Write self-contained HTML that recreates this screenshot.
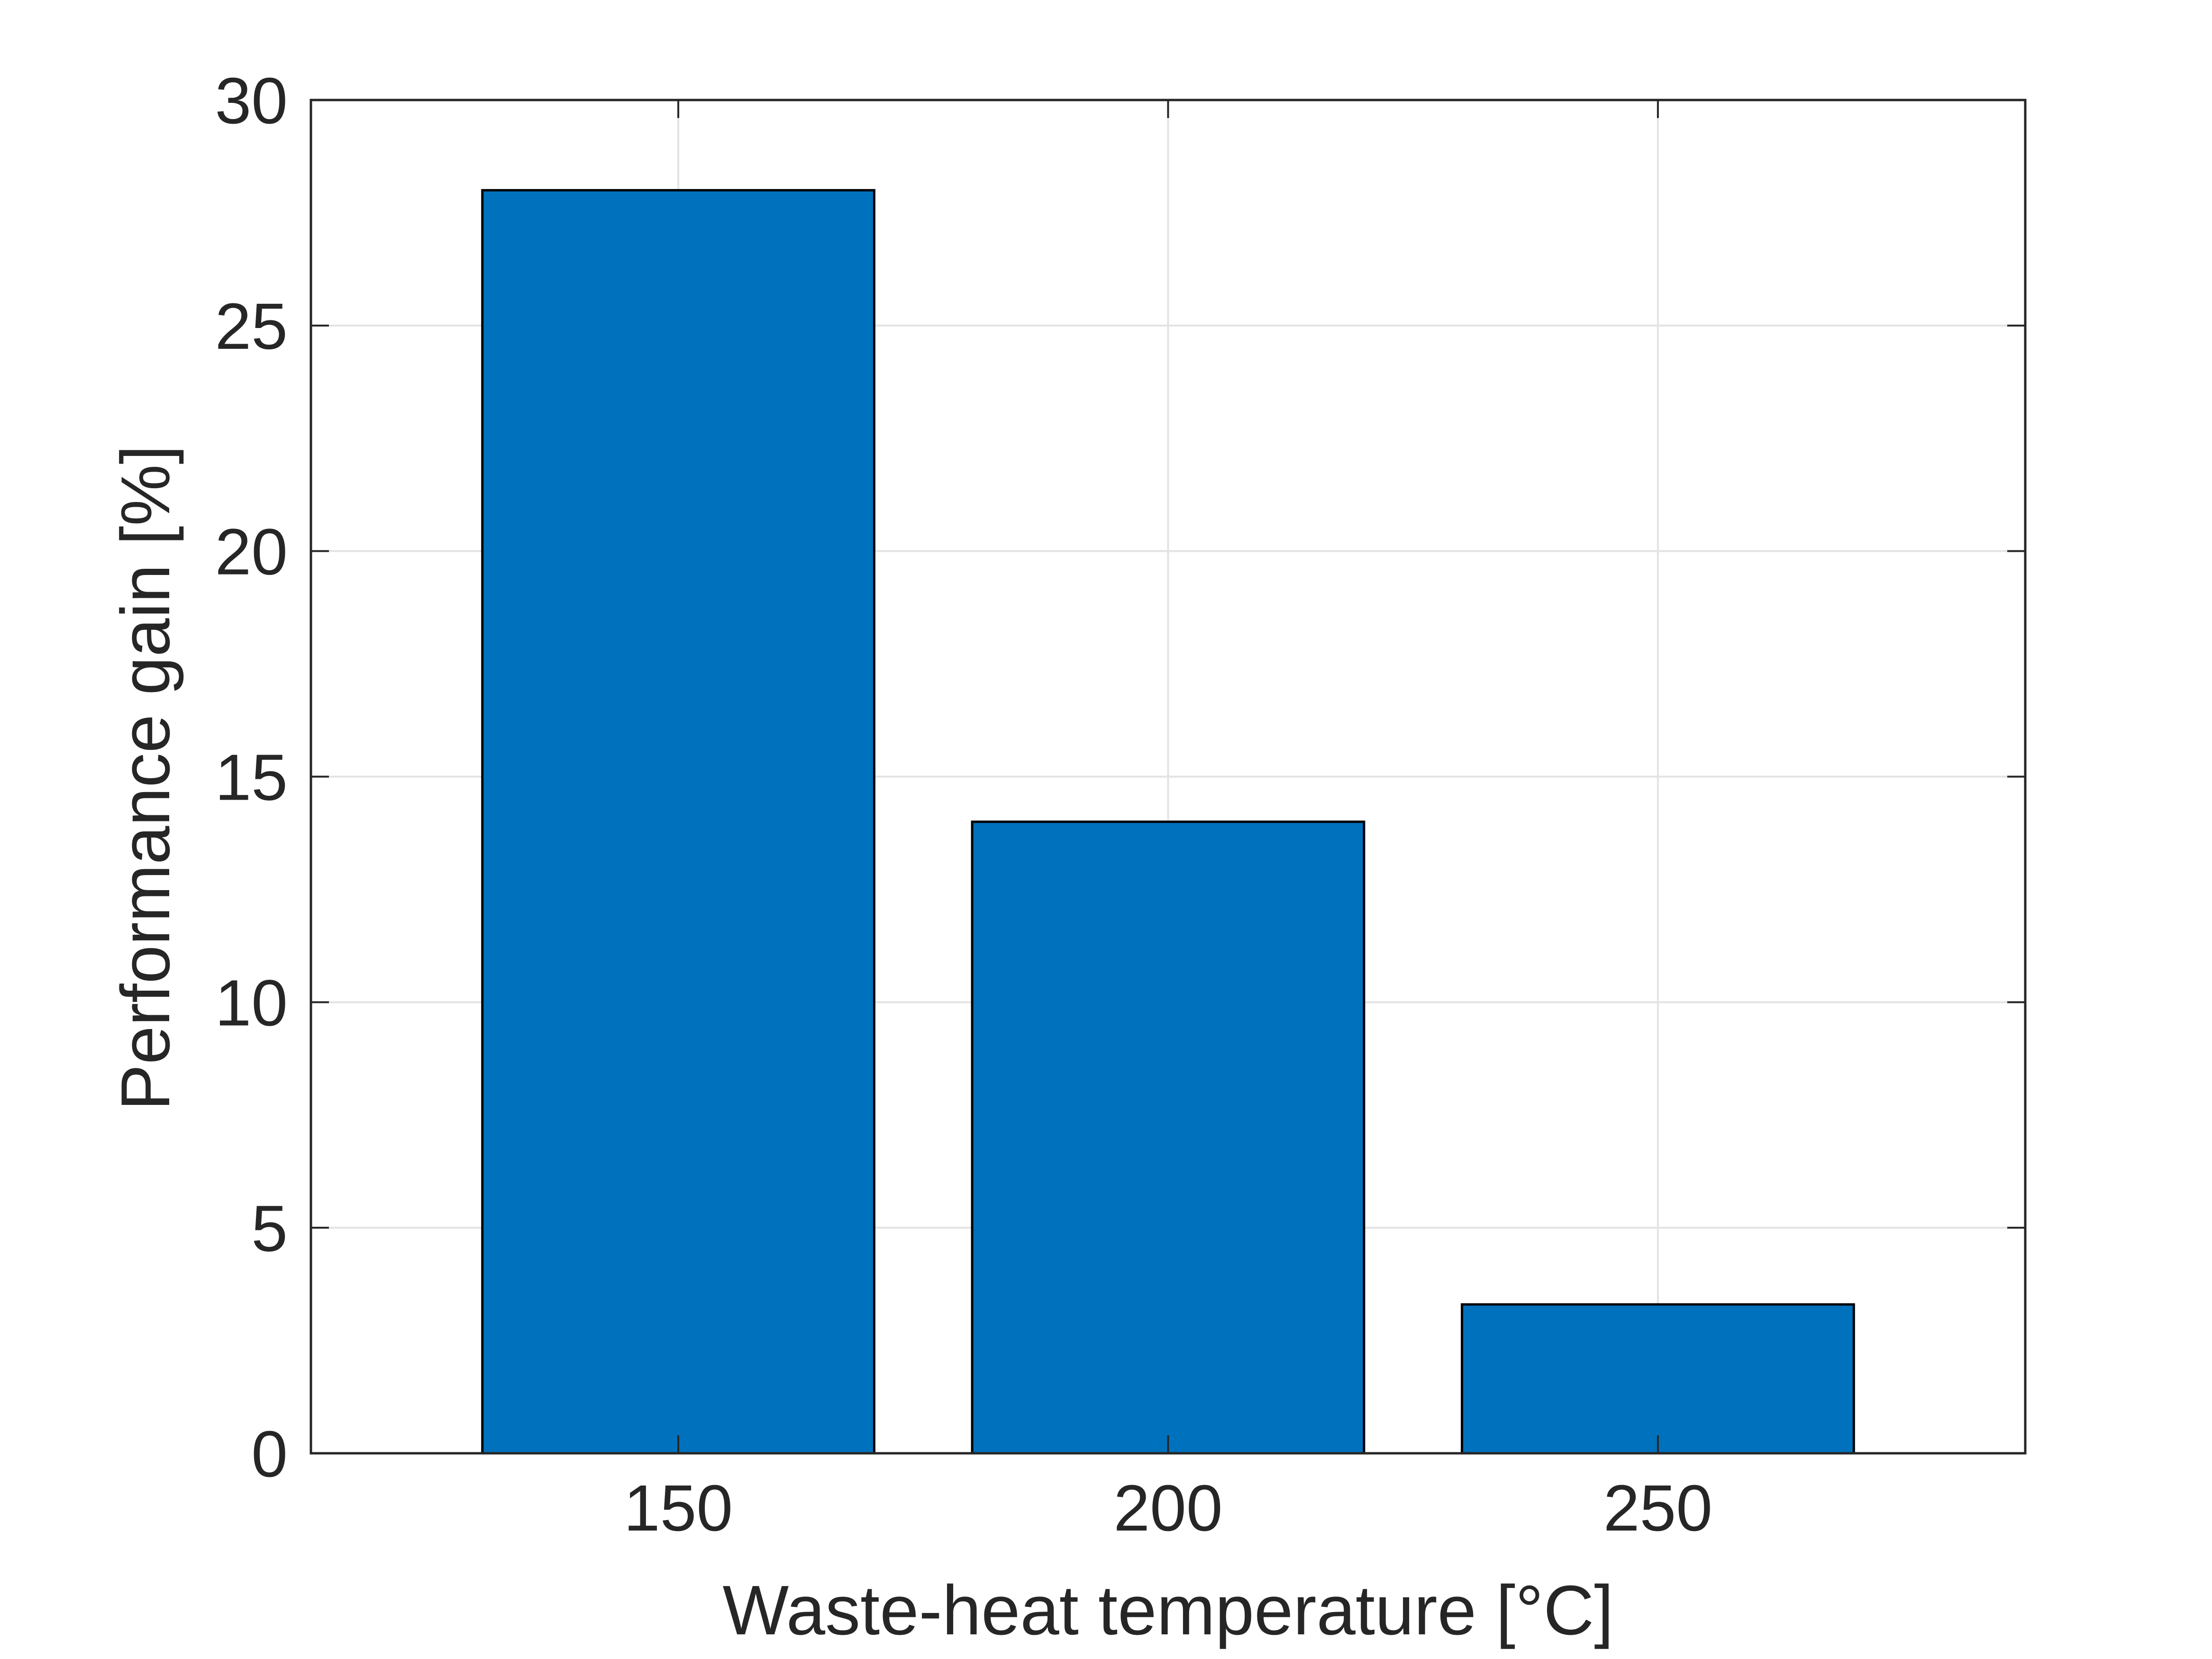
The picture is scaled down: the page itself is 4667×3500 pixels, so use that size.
<!DOCTYPE html>
<html><head><meta charset="utf-8"><style>
html,body{margin:0;padding:0;background:#fff;}
svg{display:block;}
text{font-family:"Liberation Sans",Arial,sans-serif;fill:#262626;}
</style></head><body>
<svg id="chart" width="4667" height="3500" viewBox="0 0 4667 3500" xmlns="http://www.w3.org/2000/svg">
<rect width="4667" height="3500" fill="#fff"/>
<g id="grid"></g><g id="bars"></g><g id="axes"></g>
</svg>
<script>
const categories = [150, 200, 250];
const values = [28, 14, 3.3];
const yTicks = [0, 5, 10, 15, 20, 25, 30];
const xTicks = [150, 200, 250];

const L = 656, R = 4273, T = 211, B = 3066;
const xMin = 112.5, xMax = 287.5, yMin = 0, yMax = 30;
const barW = 40;
const xs = v => L + (v - xMin) / (xMax - xMin) * (R - L);
const ys = v => B - (v - yMin) / (yMax - yMin) * (B - T);
const NS = 'http://www.w3.org/2000/svg';
function mk(tag, attrs, parent) {
  const e = document.createElementNS(NS, tag);
  for (const k in attrs) e.setAttribute(k, attrs[k]);
  parent.appendChild(e);
  return e;
}
const grid = document.getElementById('grid');
const bars = document.getElementById('bars');
const axes = document.getElementById('axes');

yTicks.forEach(t => {
  const g = mk('line', {x1: L, x2: R, y1: ys(t), y2: ys(t), stroke: '#e3e3e3', 'stroke-width': 4}, grid);
  
  
});
xTicks.forEach(t => {
  const g = mk('line', {x1: xs(t), x2: xs(t), y1: T, y2: B, stroke: '#e3e3e3', 'stroke-width': 4}, grid);
  
  
});

categories.forEach((c, i) => {
  const x0 = xs(c - barW / 2), x1 = xs(c + barW / 2);
  const r = mk('rect', {x: x0, y: ys(values[i]), width: x1 - x0, height: ys(0) - ys(values[i]), fill: '#0072bd', stroke: '#000', 'stroke-width': 5}, bars);
  
  
});

const box = mk('rect', {x: L, y: T, width: R - L, height: B - T, fill: 'none', stroke: '#262626', 'stroke-width': 5}, axes);



yTicks.forEach(t => {
  const a = mk('line', {x1: L, x2: L + 38, y1: ys(t), y2: ys(t), stroke: '#262626', 'stroke-width': 4}, axes);
  
  
  const b = mk('line', {x1: R, x2: R - 38, y1: ys(t), y2: ys(t), stroke: '#262626', 'stroke-width': 4}, axes);
  
  
  const tx = mk('text', {x: L - 49, y: ys(t) + 49, 'text-anchor': 'end', 'font-size': 138}, axes);
  tx.textContent = t;
  
  
});
xTicks.forEach(t => {
  const a = mk('line', {x1: xs(t), x2: xs(t), y1: B, y2: B - 38, stroke: '#262626', 'stroke-width': 4}, axes);
  
  
  const b = mk('line', {x1: xs(t), x2: xs(t), y1: T, y2: T + 38, stroke: '#262626', 'stroke-width': 4}, axes);
  
  
  const tx = mk('text', {x: xs(t), y: 3229, 'text-anchor': 'middle', 'font-size': 138}, axes);
  tx.textContent = t;
  
  
});

const xl = mk('text', {x: (L + R) / 2, y: 3448, 'text-anchor': 'middle', 'font-size': 148}, axes);
xl.textContent = 'Waste-heat temperature [°C]';



const yl = mk('text', {x: 0, y: 0, 'text-anchor': 'middle', 'font-size': 146, transform: 'translate(357,1641) rotate(-90)'}, axes);
yl.textContent = 'Performance gain [%]';


</script>
</body></html>
